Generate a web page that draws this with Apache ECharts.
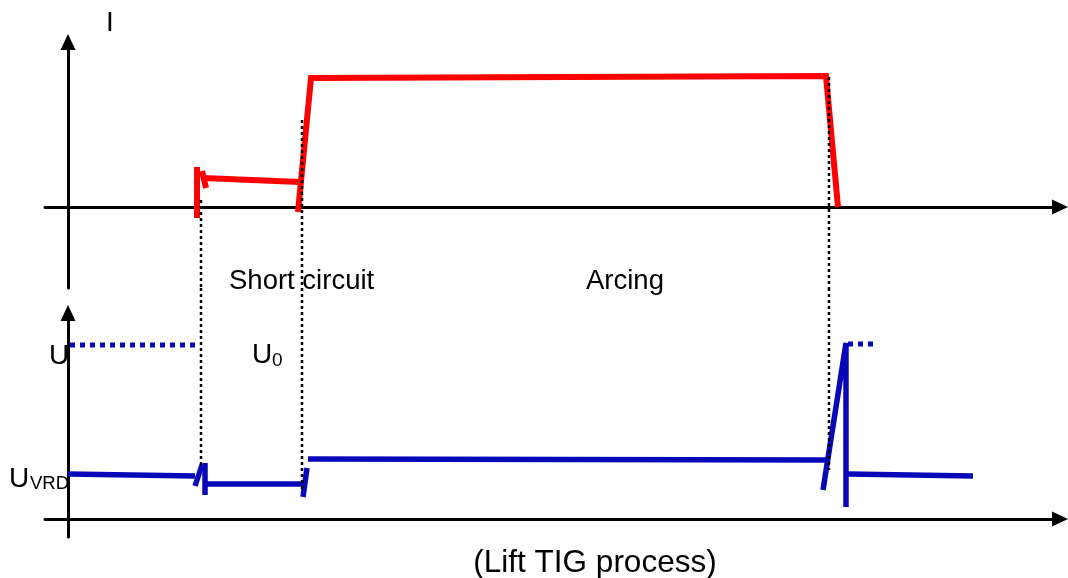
<!DOCTYPE html>
<html>
<head>
<meta charset="utf-8">
<script src="https://cdn.jsdelivr.net/npm/echarts@6/dist/echarts.min.js"></script>
<style>
  html, body { margin: 0; background: #fff; }
  #chart-container { width: 1068px; height: 578px; }
</style>
</head>
<body>
<div id="chart-container"></div>
<script>
// time in arbitrary units, t = 0 at the vertical axes
// current I (upper panel), each entry is one drawn stroke
let currentSegments = [
  [[12.9, -11], [12.9, 40]],
  [[13.4, 36], [13.8, 19]],
  [[13.5, 29], [23.2, 25]],
  [[23.0, -5], [24.3, 129], [75.8, 131], [77.0, 0]]
];

// voltage U (lower panel)
let voltageSegments = [
  [[0.0, 45], [12.7, 43]],
  [[12.7, 33], [13.4, 54]],
  [[13.7, 56], [13.7, 24]],
  [[13.7, 35], [23.4, 35]],
  [[23.5, 22], [23.9, 51]],
  [[24.0, 60], [75.8, 59]],
  [[75.5, 29], [77.8, 176], [77.8, 12]],
  [[78.0, 45], [90.5, 43]]
];

// open circuit voltage U0 (dotted)
let openCircuitSegments = [
  [[0.2, 174], [12.7, 174]],
  [[78.0, 175], [80.5, 175]]
];

// phase change markers (dotted verticals through both panels)
let phaseMarks = [13.3, 23.4, 76.1];
let phaseMarkTopI = [7, 87, 130];
let phaseMarkBottomU = [52, 29, 49];

function init() {
  const RED = '#ff0000';
  const BLUE = '#0808b8';
  const FONT = '"Liberation Sans", Arial, sans-serif';

  function axisX(gridIndex) {
    return {
      type: 'value', gridIndex, min: -2.3, max: 99.2,
      axisLine: { onZero: true, symbol: ['none', 'triangle'], symbolSize: [15, 16],
        lineStyle: { color: '#000', width: 3 } },
      axisTick: { show: false }, axisLabel: { show: false }, splitLine: { show: false }
    };
  }
  function axisY(gridIndex, min, max) {
    return {
      type: 'value', gridIndex, min, max,
      axisLine: { onZero: true, symbol: ['none', 'triangle'], symbolSize: [15, 16],
        lineStyle: { color: '#000', width: 3 } },
      axisTick: { show: false }, axisLabel: { show: false }, splitLine: { show: false }
    };
  }
  function stroke(data, idx, color, width, type, z) {
    return {
      type: 'line', xAxisIndex: idx, yAxisIndex: idx, data,
      symbol: 'none', clip: false, silent: true, z: z || 2,
      lineStyle: { color, width, type: type || 'solid', cap: 'butt', join: 'miter' }
    };
  }

  let series = [];
  currentSegments.forEach(seg => series.push(stroke(seg, 0, RED, 6)));
  voltageSegments.forEach(seg => series.push(stroke(seg, 1, BLUE, 5.5)));
  openCircuitSegments.forEach(seg => series.push(stroke(seg, 1, BLUE, 5, [5, 5])));
  phaseMarks.forEach((t, i) => {
    series.push(stroke([[t, phaseMarkTopI[i]], [t, -81]], 0, '#000', 2.5, [3, 3], 5));
    series.push(stroke([[t, 231], [t, phaseMarkBottomU[i]]], 1, '#000', 2.5, [3, 3], 5));
  });

  function label(text, x, y, size) {
    return {
      type: 'text', x, y, silent: true,
      style: { text, fontSize: size, fontFamily: FONT, fill: '#000',
        textAlign: 'left', textVerticalAlign: 'middle' }
    };
  }

  let option = {
    animation: false,
    backgroundColor: '#fff',
    grid: [
      { left: 45, right: 8, top: 42, height: 246 },
      { left: 45, right: 8, top: 313, height: 224 }
    ],
    xAxis: [axisX(0), axisX(1)],
    yAxis: [axisY(0, -81, 165), axisY(1, -18, 206)],
    series,
    graphic: [
      label('I', 106, 23, 28),
      label('Short circuit', 229, 281, 27.5),
      label('Arcing', 586, 281, 27.5),
      label('U', 49, 356, 28),
      label('U', 252, 355, 28),
      label('0', 272, 361, 19),
      label('U', 9, 479, 28),
      label('VRD', 30, 484, 18.5),
      { type: 'text', x: 595, y: 563, silent: true,
        style: { text: '(Lift TIG process)', fontSize: 31.5, fontFamily: FONT, fill: '#000',
          textAlign: 'center', textVerticalAlign: 'middle' } }
    ]
  };

  var myChart = echarts.init(document.getElementById('chart-container'));
  myChart.setOption(option);
  window.addEventListener('resize', myChart.resize);
}
init();
</script>
</body>
</html>
